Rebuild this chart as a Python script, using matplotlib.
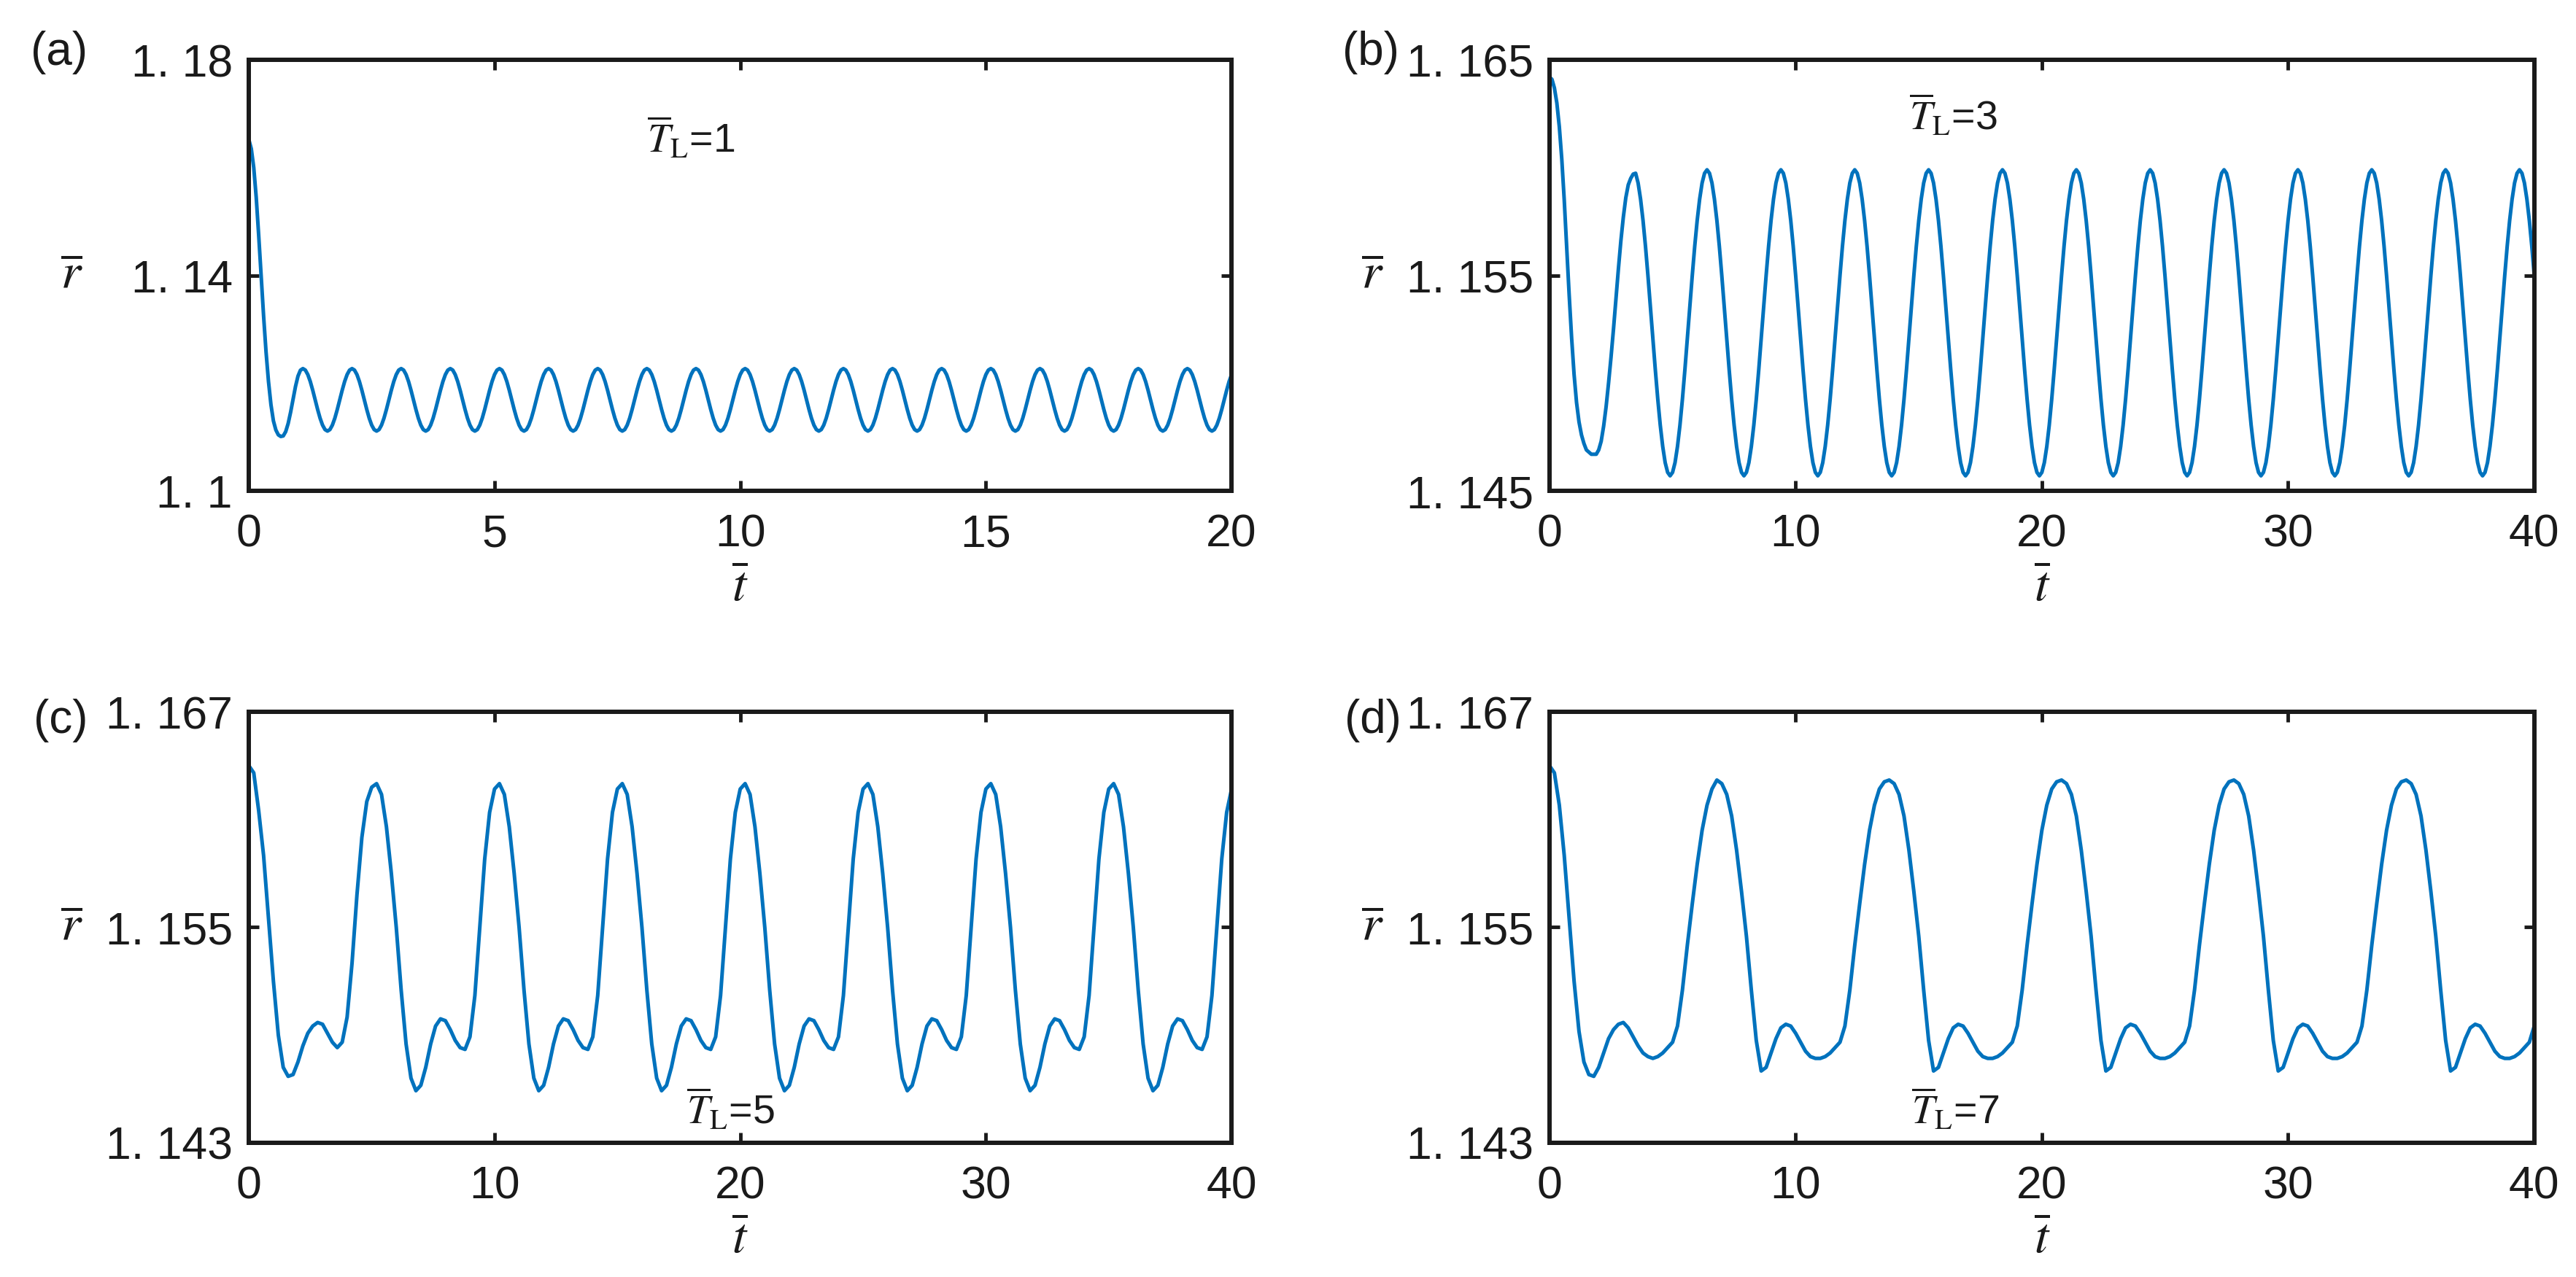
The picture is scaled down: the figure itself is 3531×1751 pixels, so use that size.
import numpy as np
import matplotlib
matplotlib.use("Agg")
import matplotlib.pyplot as plt

plt.rcParams["font.family"] = ["Liberation Sans Narrow", "Liberation Sans", "DejaVu Sans"]
plt.rcParams["mathtext.fontset"] = "stix"

# sample times (a, b: step 0.05 / 0.1, c and d: step 0.2)
t_a = np.linspace(0, 20, 401)
t_b = np.linspace(0, 40, 401)
t_cd = np.linspace(0, 40, 201)

# panel (a), T_L = 1
r_a = [
    1.1652, 1.1635, 1.1600, 1.1545, 1.1475, 1.1400, 1.1325, 1.1258, 1.1203, 1.1160, 1.1130,
    1.1113, 1.1104, 1.1101, 1.1102, 1.1110, 1.1125, 1.1146, 1.1170, 1.1194, 1.1213, 1.1224,
    1.1227, 1.12242, 1.12159, 1.12031, 1.11869, 1.1169, 1.11511, 1.11349, 1.11221, 1.11138, 1.1111, 1.11138, 1.11221, 1.11349, 1.11511, 1.1169, 1.11869, 1.12031, 1.12159, 1.12242,
    1.1227, 1.12242, 1.12159, 1.12031, 1.11869, 1.1169, 1.11511, 1.11349, 1.11221, 1.11138, 1.1111, 1.11138, 1.11221, 1.11349, 1.11511, 1.1169, 1.11869, 1.12031, 1.12159, 1.12242,
    1.1227, 1.12242, 1.12159, 1.12031, 1.11869, 1.1169, 1.11511, 1.11349, 1.11221, 1.11138, 1.1111, 1.11138, 1.11221, 1.11349, 1.11511, 1.1169, 1.11869, 1.12031, 1.12159, 1.12242,
    1.1227, 1.12242, 1.12159, 1.12031, 1.11869, 1.1169, 1.11511, 1.11349, 1.11221, 1.11138, 1.1111, 1.11138, 1.11221, 1.11349, 1.11511, 1.1169, 1.11869, 1.12031, 1.12159, 1.12242,
    1.1227, 1.12242, 1.12159, 1.12031, 1.11869, 1.1169, 1.11511, 1.11349, 1.11221, 1.11138, 1.1111, 1.11138, 1.11221, 1.11349, 1.11511, 1.1169, 1.11869, 1.12031, 1.12159, 1.12242,
    1.1227, 1.12242, 1.12159, 1.12031, 1.11869, 1.1169, 1.11511, 1.11349, 1.11221, 1.11138, 1.1111, 1.11138, 1.11221, 1.11349, 1.11511, 1.1169, 1.11869, 1.12031, 1.12159, 1.12242,
    1.1227, 1.12242, 1.12159, 1.12031, 1.11869, 1.1169, 1.11511, 1.11349, 1.11221, 1.11138, 1.1111, 1.11138, 1.11221, 1.11349, 1.11511, 1.1169, 1.11869, 1.12031, 1.12159, 1.12242,
    1.1227, 1.12242, 1.12159, 1.12031, 1.11869, 1.1169, 1.11511, 1.11349, 1.11221, 1.11138, 1.1111, 1.11138, 1.11221, 1.11349, 1.11511, 1.1169, 1.11869, 1.12031, 1.12159, 1.12242,
    1.1227, 1.12242, 1.12159, 1.12031, 1.11869, 1.1169, 1.11511, 1.11349, 1.11221, 1.11138, 1.1111, 1.11138, 1.11221, 1.11349, 1.11511, 1.1169, 1.11869, 1.12031, 1.12159, 1.12242,
    1.1227, 1.12242, 1.12159, 1.12031, 1.11869, 1.1169, 1.11511, 1.11349, 1.11221, 1.11138, 1.1111, 1.11138, 1.11221, 1.11349, 1.11511, 1.1169, 1.11869, 1.12031, 1.12159, 1.12242,
    1.1227, 1.12242, 1.12159, 1.12031, 1.11869, 1.1169, 1.11511, 1.11349, 1.11221, 1.11138, 1.1111, 1.11138, 1.11221, 1.11349, 1.11511, 1.1169, 1.11869, 1.12031, 1.12159, 1.12242,
    1.1227, 1.12242, 1.12159, 1.12031, 1.11869, 1.1169, 1.11511, 1.11349, 1.11221, 1.11138, 1.1111, 1.11138, 1.11221, 1.11349, 1.11511, 1.1169, 1.11869, 1.12031, 1.12159, 1.12242,
    1.1227, 1.12242, 1.12159, 1.12031, 1.11869, 1.1169, 1.11511, 1.11349, 1.11221, 1.11138, 1.1111, 1.11138, 1.11221, 1.11349, 1.11511, 1.1169, 1.11869, 1.12031, 1.12159, 1.12242,
    1.1227, 1.12242, 1.12159, 1.12031, 1.11869, 1.1169, 1.11511, 1.11349, 1.11221, 1.11138, 1.1111, 1.11138, 1.11221, 1.11349, 1.11511, 1.1169, 1.11869, 1.12031, 1.12159, 1.12242,
    1.1227, 1.12242, 1.12159, 1.12031, 1.11869, 1.1169, 1.11511, 1.11349, 1.11221, 1.11138, 1.1111, 1.11138, 1.11221, 1.11349, 1.11511, 1.1169, 1.11869, 1.12031, 1.12159, 1.12242,
    1.1227, 1.12242, 1.12159, 1.12031, 1.11869, 1.1169, 1.11511, 1.11349, 1.11221, 1.11138, 1.1111, 1.11138, 1.11221, 1.11349, 1.11511, 1.1169, 1.11869, 1.12031, 1.12159, 1.12242,
    1.1227, 1.12242, 1.12159, 1.12031, 1.11869, 1.1169, 1.11511, 1.11349, 1.11221, 1.11138, 1.1111, 1.11138, 1.11221, 1.11349, 1.11511, 1.1169, 1.11869, 1.12031, 1.12159, 1.12242,
    1.1227, 1.12242, 1.12159, 1.12031, 1.11869, 1.1169, 1.11511, 1.11349, 1.11221, 1.11138, 1.1111, 1.11138, 1.11221, 1.11349, 1.11511, 1.1169, 1.11869, 1.12031, 1.12159, 1.12242,
    1.1227, 1.12242, 1.12159, 1.12031, 1.11869, 1.1169, 1.11511, 1.11349, 1.11221, 1.11138, 1.1111, 1.11138, 1.11221, 1.11349, 1.11511, 1.1169, 1.11869, 1.12031, 1.12159,
]

# panel (b), T_L = 3
r_b = [
    1.1642, 1.1641, 1.1637, 1.1630, 1.1619, 1.1604, 1.1585, 1.1563, 1.1541, 1.1521, 1.1504, 1.1491,
    1.1482, 1.1476, 1.1472, 1.1469, 1.1468, 1.1467, 1.1467, 1.1467, 1.1469, 1.1473, 1.1480, 1.1489,
    1.1500, 1.1512, 1.1525, 1.1539, 1.1553, 1.1566, 1.1577, 1.1586, 1.1592, 1.1595,
    1.1597, 1.15974, 1.15929, 1.15854, 1.15755, 1.15635, 1.15499, 1.15354, 1.15206, 1.15061, 1.14925, 1.14805, 1.14706, 1.14631, 1.14586, 1.1457, 1.14586, 1.14631, 1.14706, 1.14805, 1.14925, 1.15061, 1.15206, 1.15354, 1.15499, 1.15635, 1.15755, 1.15854, 1.15929, 1.15974,
    1.1599, 1.15974, 1.15929, 1.15854, 1.15755, 1.15635, 1.15499, 1.15354, 1.15206, 1.15061, 1.14925, 1.14805, 1.14706, 1.14631, 1.14586, 1.1457, 1.14586, 1.14631, 1.14706, 1.14805, 1.14925, 1.15061, 1.15206, 1.15354, 1.15499, 1.15635, 1.15755, 1.15854, 1.15929, 1.15974,
    1.1599, 1.15974, 1.15929, 1.15854, 1.15755, 1.15635, 1.15499, 1.15354, 1.15206, 1.15061, 1.14925, 1.14805, 1.14706, 1.14631, 1.14586, 1.1457, 1.14586, 1.14631, 1.14706, 1.14805, 1.14925, 1.15061, 1.15206, 1.15354, 1.15499, 1.15635, 1.15755, 1.15854, 1.15929, 1.15974,
    1.1599, 1.15974, 1.15929, 1.15854, 1.15755, 1.15635, 1.15499, 1.15354, 1.15206, 1.15061, 1.14925, 1.14805, 1.14706, 1.14631, 1.14586, 1.1457, 1.14586, 1.14631, 1.14706, 1.14805, 1.14925, 1.15061, 1.15206, 1.15354, 1.15499, 1.15635, 1.15755, 1.15854, 1.15929, 1.15974,
    1.1599, 1.15974, 1.15929, 1.15854, 1.15755, 1.15635, 1.15499, 1.15354, 1.15206, 1.15061, 1.14925, 1.14805, 1.14706, 1.14631, 1.14586, 1.1457, 1.14586, 1.14631, 1.14706, 1.14805, 1.14925, 1.15061, 1.15206, 1.15354, 1.15499, 1.15635, 1.15755, 1.15854, 1.15929, 1.15974,
    1.1599, 1.15974, 1.15929, 1.15854, 1.15755, 1.15635, 1.15499, 1.15354, 1.15206, 1.15061, 1.14925, 1.14805, 1.14706, 1.14631, 1.14586, 1.1457, 1.14586, 1.14631, 1.14706, 1.14805, 1.14925, 1.15061, 1.15206, 1.15354, 1.15499, 1.15635, 1.15755, 1.15854, 1.15929, 1.15974,
    1.1599, 1.15974, 1.15929, 1.15854, 1.15755, 1.15635, 1.15499, 1.15354, 1.15206, 1.15061, 1.14925, 1.14805, 1.14706, 1.14631, 1.14586, 1.1457, 1.14586, 1.14631, 1.14706, 1.14805, 1.14925, 1.15061, 1.15206, 1.15354, 1.15499, 1.15635, 1.15755, 1.15854, 1.15929, 1.15974,
    1.1599, 1.15974, 1.15929, 1.15854, 1.15755, 1.15635, 1.15499, 1.15354, 1.15206, 1.15061, 1.14925, 1.14805, 1.14706, 1.14631, 1.14586, 1.1457, 1.14586, 1.14631, 1.14706, 1.14805, 1.14925, 1.15061, 1.15206, 1.15354, 1.15499, 1.15635, 1.15755, 1.15854, 1.15929, 1.15974,
    1.1599, 1.15974, 1.15929, 1.15854, 1.15755, 1.15635, 1.15499, 1.15354, 1.15206, 1.15061, 1.14925, 1.14805, 1.14706, 1.14631, 1.14586, 1.1457, 1.14586, 1.14631, 1.14706, 1.14805, 1.14925, 1.15061, 1.15206, 1.15354, 1.15499, 1.15635, 1.15755, 1.15854, 1.15929, 1.15974,
    1.1599, 1.15974, 1.15929, 1.15854, 1.15755, 1.15635, 1.15499, 1.15354, 1.15206, 1.15061, 1.14925, 1.14805, 1.14706, 1.14631, 1.14586, 1.1457, 1.14586, 1.14631, 1.14706, 1.14805, 1.14925, 1.15061, 1.15206, 1.15354, 1.15499, 1.15635, 1.15755, 1.15854, 1.15929, 1.15974,
    1.1599, 1.15974, 1.15929, 1.15854, 1.15755, 1.15635, 1.15499, 1.15354, 1.15206, 1.15061, 1.14925, 1.14805, 1.14706, 1.14631, 1.14586, 1.1457, 1.14586, 1.14631, 1.14706, 1.14805, 1.14925, 1.15061, 1.15206, 1.15354, 1.15499, 1.15635, 1.15755, 1.15854, 1.15929, 1.15974,
    1.1599, 1.15974, 1.15929, 1.15854, 1.15755, 1.15635, 1.15499, 1.15354, 1.15206, 1.15061, 1.14925, 1.14805, 1.14706, 1.14631, 1.14586, 1.1457, 1.14586, 1.14631, 1.14706, 1.14805, 1.14925, 1.15061, 1.15206, 1.15354, 1.15499, 1.15635, 1.15755, 1.15854, 1.15929, 1.15974,
    1.1599, 1.15974, 1.15929, 1.15854, 1.15755, 1.15635, 1.15499,
]

# panel (c), T_L = 5
r_c = [
    1.1640, 1.1636, 1.1615, 1.1590, 1.1555, 1.1520, 1.1490, 1.1472, 1.1467, 1.1468, 1.1475, 1.1484, 1.1491,
    1.1495, 1.1497, 1.1496, 1.1491, 1.1486, 1.1483, 1.1486, 1.1500, 1.1530, 1.1568, 1.1600, 1.1620, 1.1628,
    1.1630, 1.1624, 1.1606, 1.1580, 1.1550, 1.1515, 1.1485, 1.1466, 1.1459, 1.1462, 1.1472, 1.1485, 1.1495,
    1.1499, 1.1498, 1.1493, 1.1487, 1.1483, 1.1482, 1.1489, 1.1512, 1.1550, 1.1588, 1.1614, 1.1627,
    1.1630, 1.1624, 1.1606, 1.1580, 1.1550, 1.1515, 1.1485, 1.1466, 1.1459, 1.1462, 1.1472, 1.1485, 1.1495,
    1.1499, 1.1498, 1.1493, 1.1487, 1.1483, 1.1482, 1.1489, 1.1512, 1.1550, 1.1588, 1.1614, 1.1627,
    1.1630, 1.1624, 1.1606, 1.1580, 1.1550, 1.1515, 1.1485, 1.1466, 1.1459, 1.1462, 1.1472, 1.1485, 1.1495,
    1.1499, 1.1498, 1.1493, 1.1487, 1.1483, 1.1482, 1.1489, 1.1512, 1.1550, 1.1588, 1.1614, 1.1627,
    1.1630, 1.1624, 1.1606, 1.1580, 1.1550, 1.1515, 1.1485, 1.1466, 1.1459, 1.1462, 1.1472, 1.1485, 1.1495,
    1.1499, 1.1498, 1.1493, 1.1487, 1.1483, 1.1482, 1.1489, 1.1512, 1.1550, 1.1588, 1.1614, 1.1627,
    1.1630, 1.1624, 1.1606, 1.1580, 1.1550, 1.1515, 1.1485, 1.1466, 1.1459, 1.1462, 1.1472, 1.1485, 1.1495,
    1.1499, 1.1498, 1.1493, 1.1487, 1.1483, 1.1482, 1.1489, 1.1512, 1.1550, 1.1588, 1.1614, 1.1627,
    1.1630, 1.1624, 1.1606, 1.1580, 1.1550, 1.1515, 1.1485, 1.1466, 1.1459, 1.1462, 1.1472, 1.1485, 1.1495,
    1.1499, 1.1498, 1.1493, 1.1487, 1.1483, 1.1482, 1.1489, 1.1512, 1.1550, 1.1588, 1.1614, 1.1627,
    1.1630, 1.1624, 1.1606, 1.1580, 1.1550, 1.1515, 1.1485, 1.1466, 1.1459, 1.1462, 1.1472, 1.1485, 1.1495,
    1.1499, 1.1498, 1.1493, 1.1487, 1.1483, 1.1482, 1.1489, 1.1512, 1.1550, 1.1588, 1.1614, 1.1627,
]

# panel (d), T_L = 7
r_d = [
    1.1640, 1.1636, 1.1618, 1.1590, 1.1555, 1.1520, 1.1492, 1.1475, 1.1468, 1.1467, 1.1472, 1.1480,
    1.1488, 1.1493, 1.1496, 1.1497, 1.1494, 1.1489, 1.1484, 1.1480, 1.1478, 1.1477, 1.1478, 1.1480,
    1.1483, 1.1486, 1.1495, 1.1515, 1.1540, 1.1563, 1.1585, 1.1604, 1.1618, 1.1627,
    1.1632, 1.1630, 1.1624, 1.1612, 1.1593, 1.1570, 1.1545, 1.1515, 1.1487, 1.1470, 1.1472, 1.1480,
    1.1488, 1.1494, 1.1496, 1.1495, 1.1491, 1.1486, 1.1481, 1.1478, 1.1477, 1.1477, 1.1478, 1.1480,
    1.1483, 1.1486, 1.1495, 1.1515, 1.1540, 1.1563, 1.1585, 1.1604, 1.1618, 1.1627, 1.1631,
    1.1632, 1.1630, 1.1624, 1.1612, 1.1593, 1.1570, 1.1545, 1.1515, 1.1487, 1.1470, 1.1472, 1.1480,
    1.1488, 1.1494, 1.1496, 1.1495, 1.1491, 1.1486, 1.1481, 1.1478, 1.1477, 1.1477, 1.1478, 1.1480,
    1.1483, 1.1486, 1.1495, 1.1515, 1.1540, 1.1563, 1.1585, 1.1604, 1.1618, 1.1627, 1.1631,
    1.1632, 1.1630, 1.1624, 1.1612, 1.1593, 1.1570, 1.1545, 1.1515, 1.1487, 1.1470, 1.1472, 1.1480,
    1.1488, 1.1494, 1.1496, 1.1495, 1.1491, 1.1486, 1.1481, 1.1478, 1.1477, 1.1477, 1.1478, 1.1480,
    1.1483, 1.1486, 1.1495, 1.1515, 1.1540, 1.1563, 1.1585, 1.1604, 1.1618, 1.1627, 1.1631,
    1.1632, 1.1630, 1.1624, 1.1612, 1.1593, 1.1570, 1.1545, 1.1515, 1.1487, 1.1470, 1.1472, 1.1480,
    1.1488, 1.1494, 1.1496, 1.1495, 1.1491, 1.1486, 1.1481, 1.1478, 1.1477, 1.1477, 1.1478, 1.1480,
    1.1483, 1.1486, 1.1495, 1.1515, 1.1540, 1.1563, 1.1585, 1.1604, 1.1618, 1.1627, 1.1631,
    1.1632, 1.1630, 1.1624, 1.1612, 1.1593, 1.1570, 1.1545, 1.1515, 1.1487, 1.1470, 1.1472, 1.1480,
    1.1488, 1.1494, 1.1496, 1.1495, 1.1491, 1.1486, 1.1481, 1.1478, 1.1477, 1.1477, 1.1478, 1.1480,
    1.1483, 1.1486, 1.1495,
]

panel_tags = ["(a)", "(b)", "(c)", "(d)"]
tl_values = [1, 3, 5, 7]
xlims = [(0, 20), (0, 40), (0, 40), (0, 40)]
xticks = [[0, 5, 10, 15, 20], [0, 10, 20, 30, 40], [0, 10, 20, 30, 40], [0, 10, 20, 30, 40]]
yticks = [[1.10, 1.14, 1.18], [1.145, 1.155, 1.165], [1.143, 1.155, 1.167], [1.143, 1.155, 1.167]]
ytick_labels = [["1. 1", "1. 14", "1. 18"], ["1. 145", "1. 155", "1. 165"],
                ["1. 143", "1. 155", "1. 167"], ["1. 143", "1. 155", "1. 167"]]
tl_text_pos = [(9.0, 1.1654), (16.4, 1.1624), (19.6, 1.1448), (16.5, 1.1448)]

line_color = "#0072BD"
edge_color = "#1a1a1a"

fig = plt.figure(figsize=(35.31, 17.51), dpi=100)

ax_rects = [
    [0.0966, 0.6156, 0.3815, 0.3375],
    [0.6015, 0.6156, 0.3823, 0.3375],
    [0.0966, 0.1051, 0.3815, 0.3375],
    [0.6015, 0.1051, 0.3823, 0.3375],
]
tag_pos = [(0.012, 0.959), (0.521, 0.959), (0.013, 0.436), (0.522, 0.436)]

series = [(t_a, r_a), (t_b, r_b), (t_cd, r_c), (t_cd, r_d)]

for i in range(4):
    ax = fig.add_axes(ax_rects[i])
    t, r = series[i]
    ax.plot(t, r, color=line_color, linewidth=3.6, solid_joinstyle="round")

    ax.set_xlim(*xlims[i])
    ax.set_ylim(yticks[i][0], yticks[i][-1])
    ax.set_xticks(xticks[i])
    ax.set_yticks(yticks[i])
    ax.set_yticklabels(ytick_labels[i])

    ax.tick_params(direction="in", top=True, right=True, length=10, width=3.5,
                   labelsize=45, colors=edge_color)
    ax.tick_params(axis="x", pad=22)
    ax.tick_params(axis="y", pad=16)
    for sp in ax.spines.values():
        sp.set_linewidth(4.3)
        sp.set_color(edge_color)

    ax.text(0.5, -0.225, r"$\overline{t}$", transform=ax.transAxes,
            ha="center", va="center", fontsize=50, color=edge_color)
    ax.text(-0.18, 0.5, r"$\overline{r}$", transform=ax.transAxes,
            ha="center", va="center", fontsize=50, color=edge_color)

    tx, ty = tl_text_pos[i]
    ax.text(tx, ty, r"$\overline{T}_{\mathrm{L}}$" + "=" + str(tl_values[i]),
            ha="center", va="center", fontsize=40, color=edge_color)

    fig.text(tag_pos[i][0], tag_pos[i][1], panel_tags[i], ha="left", va="center",
             fontsize=46, color=edge_color)

fig.savefig("out.png", dpi=100)
